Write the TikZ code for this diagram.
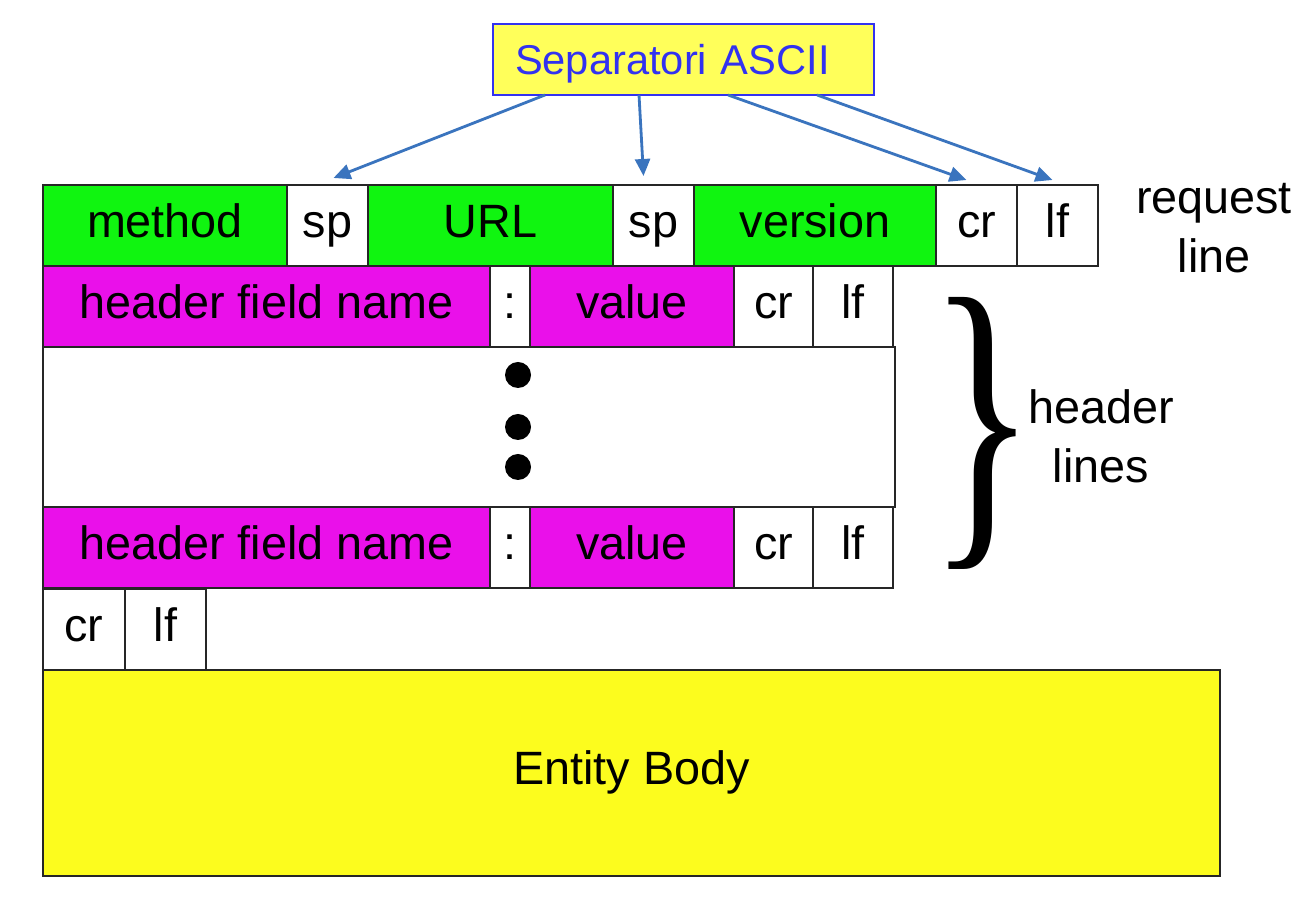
\documentclass[tikz,border=0pt]{standalone}
\usepackage{fontspec}
\setmainfont{Liberation Sans}
\newfontfamily\bracefont{Liberation Serif}
\usepackage{graphicx}
\usetikzlibrary{positioning,arrows.meta}

\definecolor{reqgreen}{RGB}{16,245,16}
\definecolor{hdrmagenta}{RGB}{234,16,234}
\definecolor{bodyyellow}{RGB}{252,252,30}
\definecolor{sepfill}{RGB}{255,255,90}
\definecolor{sepblue}{RGB}{50,50,240}
\definecolor{arrowblue}{RGB}{58,116,190}

\tikzset{
  cell/.style={draw=black!85, line width=0.7pt, inner sep=0pt, outer sep=0pt,
    minimum height=0.81cm, text height=0.36cm, text depth=0.12cm,
    font=\fontsize{13.3}{16.8}\selectfont},
  blank/.style={cell, fill=white},
  reqcell/.style={cell, fill=reqgreen},
  hdrcell/.style={cell, fill=hdrmagenta},
  sepbox/.style={draw=sepblue, fill=sepfill, line width=0.8pt, text=sepblue,
    inner xsep=0.22cm, inner ysep=0pt, outer sep=0pt, text width=3.37cm, align=left,
    minimum height=0.71cm, text height=0.36cm, text depth=0.05cm,
    font=\fontsize{11.85}{14}\selectfont},
  separrow/.style={draw=arrowblue, line width=0.8pt,
    -{Triangle[length=0.17cm,width=0.15cm]}},
  sidetext/.style={align=center, inner sep=0pt, font=\fontsize{13.3}{16.8}\selectfont}
}

\begin{document}
\begin{tikzpicture}
    \useasboundingbox (0,0) rectangle (13.08,-9.16);

    % request line
    \node[reqcell, minimum width=2.44cm, anchor=north west] (method) at (0.43,-1.85) {method};
    \node[blank, minimum width=0.81cm, right=0pt of method] (sp1) {sp};
    \node[reqcell, minimum width=2.45cm, right=0pt of sp1] (url) {URL};
    \node[blank, minimum width=0.81cm, right=0pt of url] (sp2) {sp};
    \node[reqcell, minimum width=2.42cm, right=0pt of sp2] (version) {version};
    \node[blank, minimum width=0.81cm, right=0pt of version] (cr0) {cr};
    \node[blank, minimum width=0.81cm, right=0pt of cr0] (lf0) {lf};

    % first header line
    \node[hdrcell, minimum width=4.47cm, anchor=north west] (name1) at (0.43,-2.66) {header field name};
    \node[blank, minimum width=0.40cm, right=0pt of name1] (colon1) {:};
    \node[hdrcell, minimum width=2.04cm, right=0pt of colon1] (value1) {value};
    \node[blank, minimum width=0.79cm, right=0pt of value1] (cr1) {cr};
    \node[blank, minimum width=0.80cm, right=0pt of cr1] (lf1) {lf};

    % more header lines (dots)
    \node[cell, minimum width=8.52cm, minimum height=1.60cm, anchor=north west] (gap) at (0.43,-3.47) {};
    \foreach \y in {-3.75,-4.27,-4.67} {
        \fill (5.18,\y) circle (0.13);
    }

    % last header line
    \node[hdrcell, minimum width=4.47cm, anchor=north west] (name2) at (0.43,-5.07) {header field name};
    \node[blank, minimum width=0.40cm, right=0pt of name2] (colon2) {:};
    \node[hdrcell, minimum width=2.04cm, right=0pt of colon2] (value2) {value};
    \node[blank, minimum width=0.79cm, right=0pt of value2] (cr2) {cr};
    \node[blank, minimum width=0.80cm, right=0pt of cr2] (lf2) {lf};

    % blank line
    \node[blank, minimum width=0.82cm, anchor=north west] (cr3) at (0.43,-5.89) {cr};
    \node[blank, minimum width=0.81cm, right=0pt of cr3] (lf3) {lf};

    % body
    \node[cell, fill=bodyyellow, minimum width=11.77cm, minimum height=2.06cm,
        anchor=north west] (body) at (0.43,-6.70) {Entity Body};

    % labels on the right
    \node[sidetext] (reqlabel) at (12.14,-2.28) {request\\line};
    \node[inner sep=0pt, anchor=west] (brace) at (9.28,-4.33)
        {\resizebox*{1.08cm}{2.72cm}{\bracefont\}}};
    \node[sidetext] (hdrlabel) at (11.01,-4.36) {header\\lines};

    % ASCII separators
    \node[sepbox, anchor=north west] (sep) at (4.93,-0.24) {Separatori ASCII};
    \draw[separrow] ([xshift=0.52cm]sep.south west) -- ([xshift=0.06cm,yshift=0.07cm]sp1.north);
    \draw[separrow] ([xshift=1.46cm]sep.south west) -- ([xshift=-0.10cm,yshift=0.09cm]sp2.north);
    \draw[separrow] ([xshift=2.35cm]sep.south west) -- ([xshift=-0.10cm,yshift=0.05cm]cr0.north);
    \draw[separrow] ([xshift=3.24cm]sep.south west) -- ([xshift=-0.05cm,yshift=0.05cm]lf0.north);

\end{tikzpicture}
\end{document}
